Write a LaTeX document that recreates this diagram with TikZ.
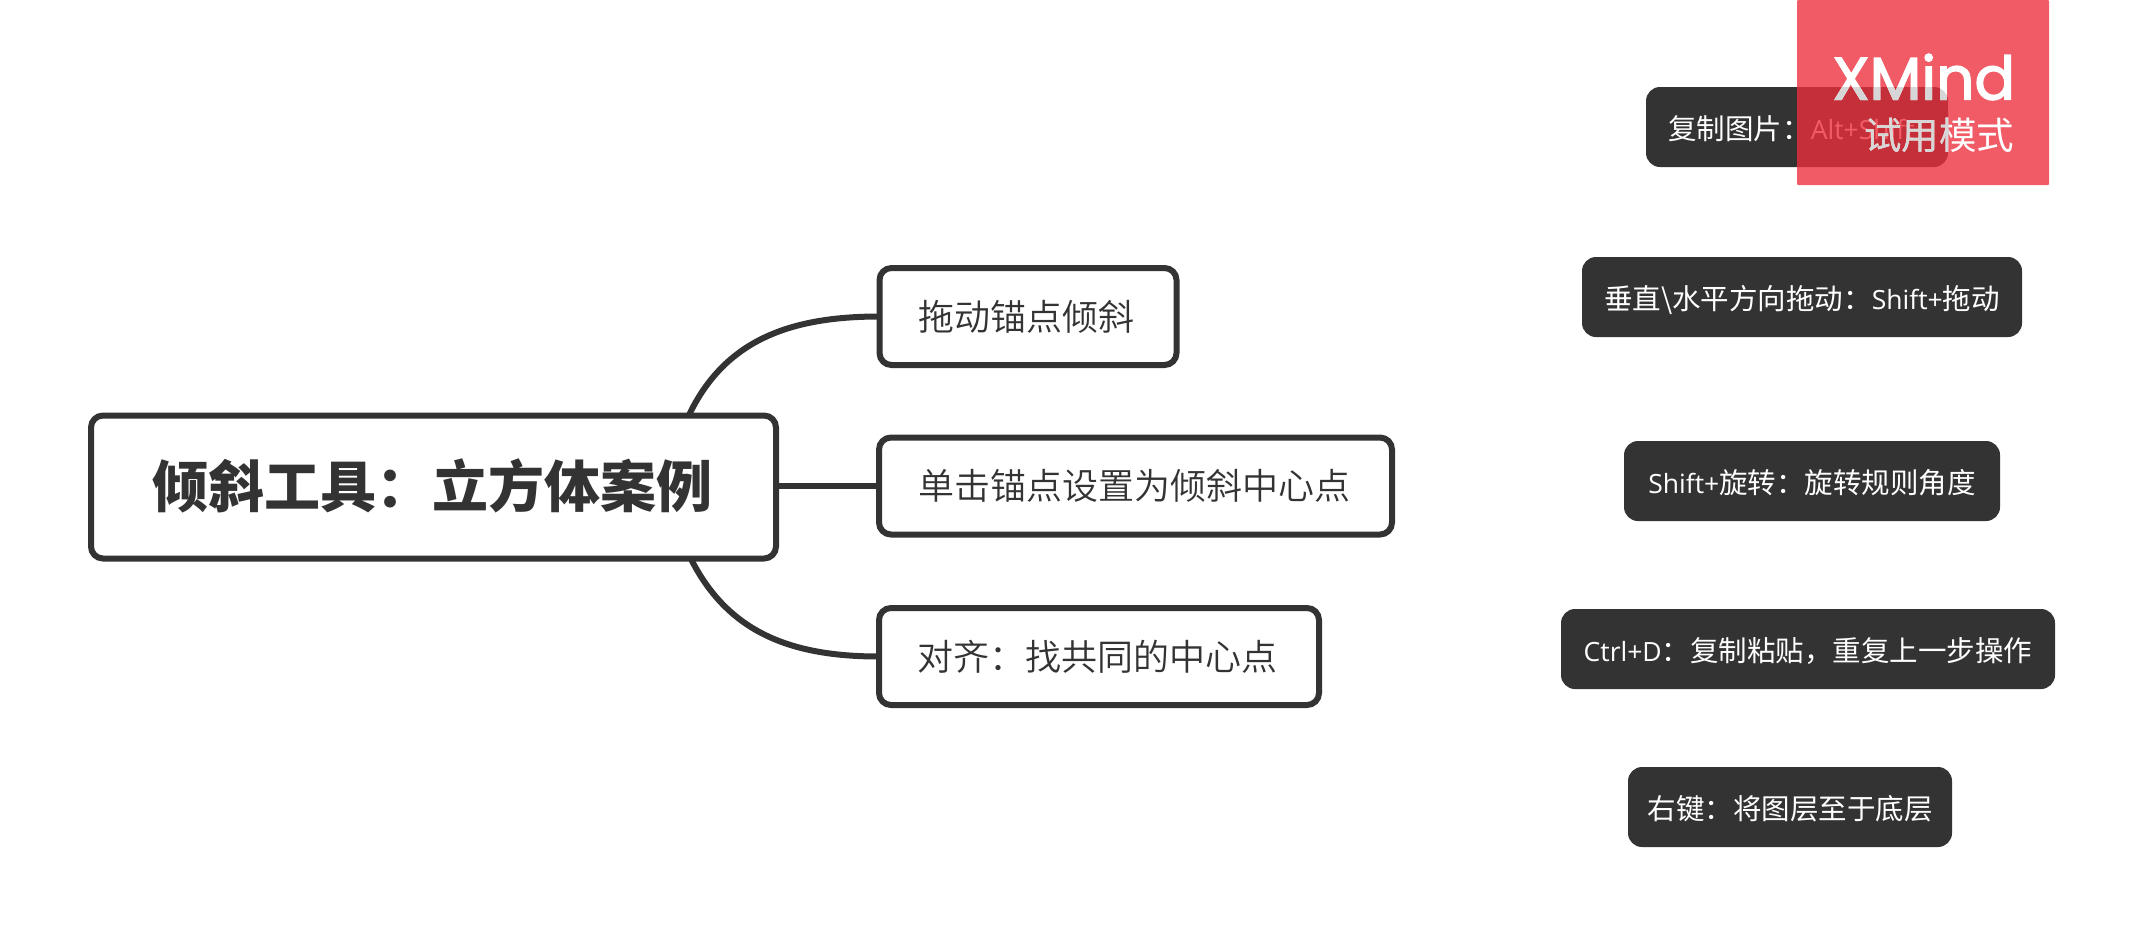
\documentclass[tikz,border=0pt]{standalone}
\usepackage{fontspec}
\setmainfont{Noto Sans CJK SC}[BoldFont={Noto Sans CJK SC Black}]
\newfontfamily\lightf{Noto Sans CJK SC DemiLight}
\newfontfamily\latf{Open Sans}[Scale=0.93]
\newfontfamily\wmf{Poppins}[FakeBold=2.2]
\newcommand{\lat}[1]{{\latf #1}}
\definecolor{ink}{HTML}{333333}
\definecolor{wmred}{RGB}{238,46,59}
\definecolor{wmgrey}{HTML}{D6D6D6}
\tikzset{
  x=1pt,y=-1pt,
  mainbox/.style={draw=ink,line width=6pt,fill=white,rounded corners=12pt,text=ink,font=\fontsize{56}{60}\selectfont\bfseries,text height=43pt,text depth=3pt,outer sep=0pt,inner sep=0pt},
  subbox/.style={draw=ink,line width=6pt,fill=white,rounded corners=12pt,text=ink,font=\fontsize{36}{40}\lightf\selectfont,outer sep=0pt,inner sep=0pt},
  darkbox/.style={fill=ink,rounded corners=14pt,text=white,font=\fontsize{28.5}{32}\selectfont,text height=28.6pt,text depth=3pt,outer sep=0pt,inner sep=0pt},
  conn/.style={draw=ink,line width=6pt},
  wmbig/.style={font=\fontsize{60}{62}\wmf\selectfont,anchor=east,inner sep=0pt,outer sep=0pt},
  wmsmall/.style={font=\fontsize{37.5}{40}\selectfont,anchor=east,inner sep=0pt,outer sep=0pt},
}
\begin{document}
\begin{tikzpicture}
\useasboundingbox (0,0) rectangle (2143,935);
\fill[white] (0,0) rectangle (2143,935);
% connector ends on the main box
\coordinate (c1) at (689,415);
\coordinate (c3) at (691,559);
% nodes
\node[mainbox,minimum width=685,minimum height=143] (m) at (433.5,487) {\kern-3pt 倾斜工具：立方体案例};
\node[subbox,minimum width=297,minimum height=97] (s1) at (1028,316.5) {\kern-3pt 拖动锚点倾斜};
\node[subbox,minimum width=513,minimum height=97] (s2) at (1135.5,486) {\kern-3pt 单击锚点设置为倾斜中心点};
\node[subbox,minimum width=440,minimum height=97] (s3) at (1099,656.5) {\kern-3pt 对齐：找共同的中心点};
\draw[conn] (c1) .. controls (725,340) and (790,316.5) .. (s1.west);
\draw[conn] (m.east |- s2.west) -- (s2.west);
\draw[conn] (c3) .. controls (728,632) and (790,656.5) .. (s3.west);
\node[darkbox,minimum width=302,minimum height=80] (d1) at (1797,127) {\kern-11pt 复制图片：\lat{Alt+Shift}};
\node[darkbox,minimum width=440,minimum height=80] (d2) at (1802,297) {垂直\textbackslash 水平方向拖动：\lat{Shift+}拖动};
\node[darkbox,minimum width=376,minimum height=80] (d3) at (1812,481) {\lat{Shift+}旋转：旋转规则角度};
\node[darkbox,minimum width=494,minimum height=80] (d4) at (1808,649) {\lat{Ctrl+D}：复制粘贴，重复上一步操作};
\node[darkbox,minimum width=324,minimum height=80] (d5) at (1790,807) {右键：将图层至于底层};
% watermark
\node[fill=wmred,fill opacity=.78,rounded corners=1pt,minimum width=252,minimum height=185,inner sep=0pt,outer sep=0pt] (wm) at (1923,92.5) {};
\node[wmbig,text=white] (wx) at (2015,77) {XMind};
\node[wmsmall,text=white] (wt) at (2014,135) {试用模式};
\begin{scope}
\clip[rounded corners=14pt] (d1.north west) rectangle (d1.south east);
\node[wmbig,text=wmgrey] (wx2) at (2015,77) {XMind};
\node[wmsmall,text=wmgrey] (wt2) at (2014,135) {试用模式};
\end{scope}
\end{tikzpicture}
\end{document}
